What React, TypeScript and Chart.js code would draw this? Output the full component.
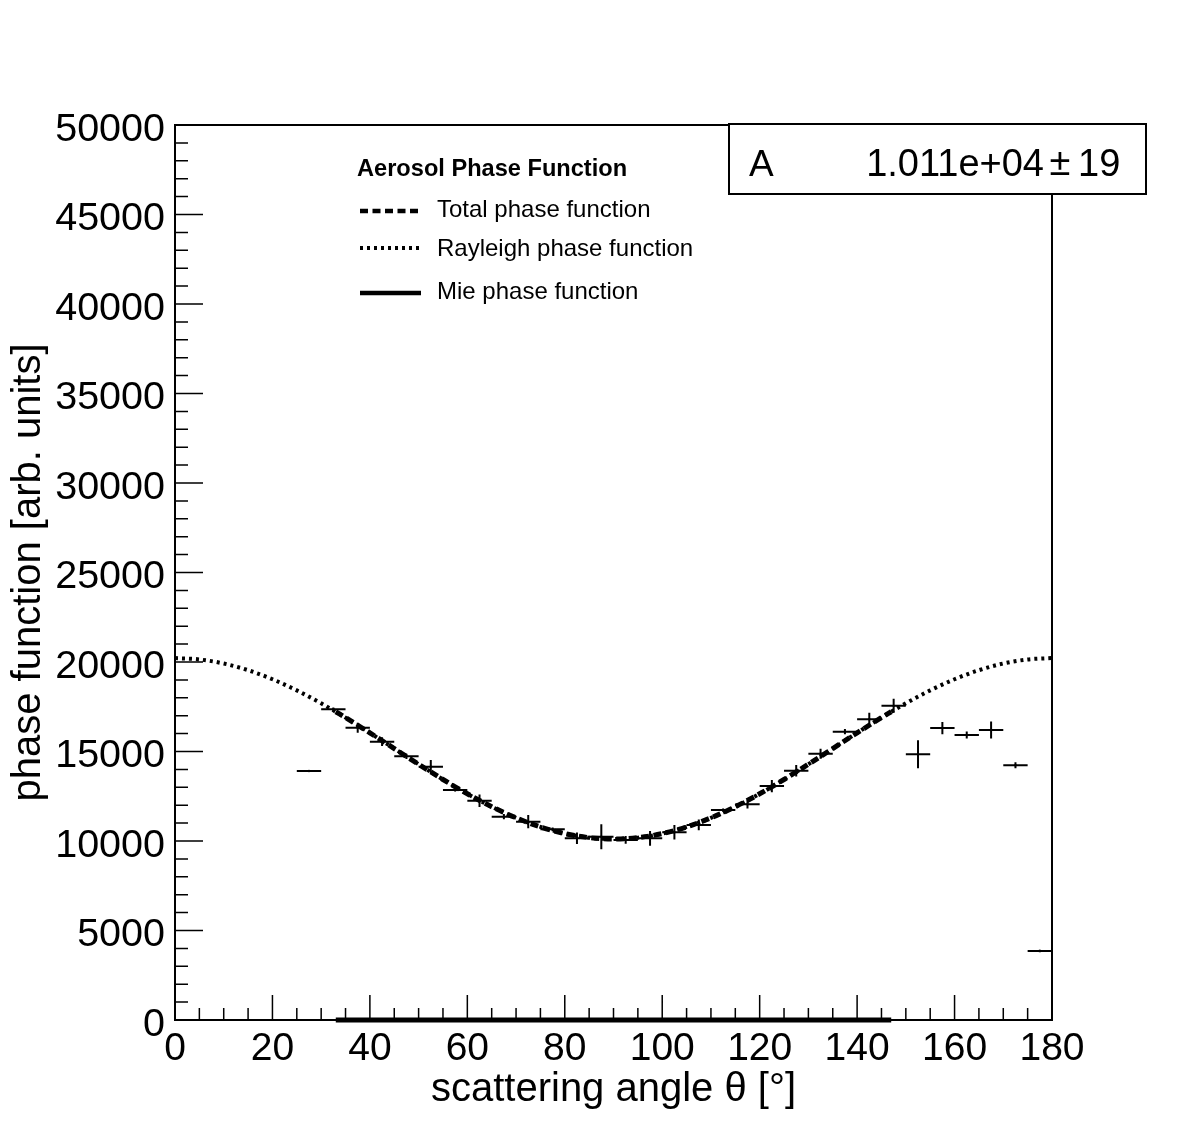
import { useEffect, useRef } from 'react';
import { Chart, registerables } from 'chart.js';

Chart.register(...registerables);

// measured histogram bins (5 degree wide)
const binCenters = [
  27.5, 32.5, 37.5, 42.5, 47.5, 52.5, 57.5, 62.5, 67.5, 72.5, 77.5,
  82.5, 87.5, 92.5, 97.5, 102.5, 107.5, 112.5, 117.5, 122.5, 127.5,
  132.5, 137.5, 142.5, 147.5, 152.5, 157.5, 162.5, 167.5, 172.5, 177.5,
];
const binValues = [
  13910, 17360, 16330, 15550, 14730, 14150, 12850, 12250, 11360, 11080, 10650,
  10150, 10240, 10060, 10150, 10490, 10900, 11730, 12050, 13070, 13930,
  14880, 16110, 16800, 17550, 14850, 16310, 15920, 16200, 14230, 3860,
];
const binErrors = [
  60, 100, 280, 240, 150, 370, 90, 350, 150, 370, 110,
  320, 700, 220, 410, 410, 300, 90, 240, 340, 320,
  280, 150, 370, 390, 780, 340, 200, 470, 170, 70,
];
const binHalfWidth = 2.5;

// fitted curves
const rayleighAngles = [
  0, 5, 10, 15, 20, 25, 30, 35, 40, 45, 50, 55, 60, 65, 70, 75, 80, 85, 90,
  95, 100, 105, 110, 115, 120, 125, 130, 135, 140, 145, 150, 155, 160, 165, 170, 175, 180,
];
const rayleighValues = [
  20220, 20143, 19915, 19543, 19037, 18414, 17693, 16894, 16042, 15165, 14288, 13436, 12638, 11916, 11293, 10787, 10415, 10187, 10110,
  10187, 10415, 10787, 11293, 11916, 12638, 13436, 14288, 15165, 16042, 16894, 17693, 18414, 19037, 19543, 19915, 20143, 20220,
];
const totalAngles = [
  33, 35, 40, 45, 50, 55, 60, 65, 70, 75, 80, 85, 90,
  95, 100, 105, 110, 115, 120, 125, 130, 135, 140, 145, 147,
];
const totalValues = [
  17221, 16894, 16042, 15165, 14288, 13436, 12638, 11916, 11293, 10787, 10415, 10187, 10110,
  10187, 10415, 10787, 11293, 11916, 12638, 13436, 14288, 15165, 16042, 16894, 17221,
];
const mieAngles = [33, 90, 147];
const mieValues = [0, 0, 0];

const xTicks = [0, 20, 40, 60, 80, 100, 120, 140, 160, 180];
const yTicks = [0, 5000, 10000, 15000, 20000, 25000, 30000, 35000, 40000, 45000, 50000];
const xMinorStep = 5;
const yMinorStep = 1000;

const legendTitle = 'Aerosol Phase Function';
const legendLabels = ['Total phase function', 'Rayleigh phase function', 'Mie phase function'];
const fitName = 'A';
const fitValue = '1.011e+04';
const fitError = '19';

const FONT = '"Liberation Sans", Arial, Helvetica, sans-serif';
const totalDash = [8, 4.5];
const rayleighDash = [3, 4];

const rootStyle = {
  id: 'rootStyle',
  afterDatasetsDraw(chart: any) {
    const { ctx, chartArea: a } = chart;
    const x = chart.scales.x;
    const y = chart.scales.y;
    ctx.save();
    ctx.strokeStyle = '#000';
    ctx.fillStyle = '#000';

    // error bars
    ctx.lineWidth = 2;
    binCenters.forEach((c, i) => {
      const px = x.getPixelForValue(c);
      const py = y.getPixelForValue(binValues[i]);
      ctx.beginPath();
      ctx.moveTo(x.getPixelForValue(c - binHalfWidth), py);
      ctx.lineTo(x.getPixelForValue(c + binHalfWidth), py);
      ctx.moveTo(px, y.getPixelForValue(binValues[i] - binErrors[i]));
      ctx.lineTo(px, y.getPixelForValue(binValues[i] + binErrors[i]));
      ctx.stroke();
    });

    // frame
    ctx.lineWidth = 2;
    ctx.strokeRect(a.left, a.top, a.right - a.left, a.bottom - a.top);

    // ticks inside the frame
    ctx.lineWidth = 1.5;
    ctx.beginPath();
    for (let v = y.min; v <= y.max; v += yMinorStep) {
      const py = y.getPixelForValue(v);
      const len = v % 5000 === 0 ? 28 : 13;
      ctx.moveTo(a.left, py);
      ctx.lineTo(a.left + len, py);
    }
    for (let v = x.min; v <= x.max; v += xMinorStep) {
      const px = x.getPixelForValue(v);
      const len = v % 20 === 0 ? 25 : 12;
      ctx.moveTo(px, a.bottom);
      ctx.lineTo(px, a.bottom - len);
    }
    ctx.stroke();

    // legend
    ctx.textAlign = 'left';
    ctx.textBaseline = 'alphabetic';
    ctx.font = `bold 23.6px ${FONT}`;
    ctx.fillText(legendTitle, 357, 176);
    ctx.font = `24px ${FONT}`;
    const rows = [
      { y: 211, text: 217, dash: totalDash, w: 4.5 },
      { y: 248, text: 256, dash: rayleighDash, w: 4 },
      { y: 293, text: 298.5, dash: [], w: 4.5 },
    ];
    rows.forEach((r, i) => {
      ctx.save();
      ctx.lineWidth = r.w;
      ctx.setLineDash(r.dash);
      ctx.beginPath();
      ctx.moveTo(360, r.y);
      ctx.lineTo(421, r.y);
      ctx.stroke();
      ctx.restore();
      ctx.fillText(legendLabels[i], 437, r.text);
    });

    // fit parameter box
    ctx.fillStyle = '#fff';
    ctx.fillRect(729, 124, 417, 70);
    ctx.lineWidth = 2;
    ctx.strokeRect(729, 124, 417, 70);
    ctx.fillStyle = '#000';
    ctx.font = `37px ${FONT}`;
    ctx.textBaseline = 'alphabetic';
    ctx.textAlign = 'left';
    ctx.fillText(fitName, 749, 176);
    ctx.font = `38px ${FONT}`;
    ctx.textAlign = 'right';
    ctx.fillText(fitValue, 1044, 176);
    ctx.textAlign = 'center';
    ctx.font = `38px ${FONT}`;
    ctx.fillText('±', 1060, 175);
    ctx.font = `38px ${FONT}`;
    ctx.textAlign = 'left';
    ctx.fillText(fitError, 1078, 176);

    ctx.restore();
  },
};

export default function App() {
  const canvasRef = useRef<HTMLCanvasElement>(null);
  const chartRef = useRef<Chart | null>(null);

  useEffect(() => {
    if (!canvasRef.current) return;
    if (chartRef.current) chartRef.current.destroy();

    const pts = (xs: number[], ys: number[]) => xs.map((v, i) => ({ x: v, y: ys[i] }));

    chartRef.current = new Chart(canvasRef.current, {
      type: 'line',
      data: {
        datasets: [
          {
            label: 'data',
            data: pts(binCenters, binValues),
            showLine: false,
            pointRadius: 1.2,
            pointBackgroundColor: '#000',
            pointBorderWidth: 0,
            order: 4,
          },
          {
            label: legendLabels[1],
            data: pts(rayleighAngles, rayleighValues),
            borderColor: '#000',
            borderWidth: 4,
            borderDash: rayleighDash,
            pointRadius: 0,
            cubicInterpolationMode: 'monotone',
            order: 3,
          },
          {
            label: legendLabels[0],
            data: pts(totalAngles, totalValues),
            borderColor: '#000',
            borderWidth: 5,
            borderDash: totalDash,
            pointRadius: 0,
            cubicInterpolationMode: 'monotone',
            order: 2,
          },
          {
            label: legendLabels[2],
            data: pts(mieAngles, mieValues),
            borderColor: '#000',
            borderWidth: 5,
            pointRadius: 0,
            clip: false,
            order: 1,
          },
        ],
      },
      options: {
        animation: false,
        responsive: true,
        maintainAspectRatio: false,
        devicePixelRatio: 1,
        layout: { padding: { top: 125, right: 129, left: 0, bottom: 0 } },
        plugins: {
          legend: { display: false },
          tooltip: { enabled: false },
        },
        scales: {
          x: {
            type: 'linear',
            min: 0,
            max: 180,
            afterBuildTicks: (s: any) => { s.ticks = xTicks.map((v) => ({ value: v })); },
            afterFit: (s: any) => { s.height = 124; },
            grid: { display: false, drawTicks: false },
            border: { display: false },
            ticks: {
              color: '#000',
              padding: 6,
              autoSkip: false,
              maxRotation: 0,
              font: { family: FONT, size: 39 },
            },
            title: {
              display: true,
              text: 'scattering angle θ [°]',
              color: '#000',
              font: { family: FONT, size: 40 },
              padding: { top: 0, bottom: 30 },
            },
          },
          y: {
            type: 'linear',
            min: 0,
            max: 50000,
            afterBuildTicks: (s: any) => { s.ticks = yTicks.map((v) => ({ value: v })); },
            afterFit: (s: any) => { s.width = 175; },
            grid: { display: false, drawTicks: false },
            border: { display: false },
            ticks: {
              color: '#000',
              padding: 10,
              autoSkip: false,
              labelOffset: 5,
              font: { family: FONT, size: 39.5 },
              callback: (v: any) => String(v),
            },
            title: {
              display: true,
              text: 'phase function [arb. units]',
              color: '#000',
              font: { family: FONT, size: 40 },
              padding: { top: 5, bottom: 0 },
            },
          },
        },
      },
      plugins: [rootStyle],
    } as any);

    return () => {
      if (chartRef.current) {
        chartRef.current.destroy();
        chartRef.current = null;
      }
    };
  }, []);

  return (
    <div style={{ position: 'absolute', left: 0, top: 0, width: 1181, height: 1144, background: '#fff' }}>
      <canvas ref={canvasRef} />
    </div>
  );
}
